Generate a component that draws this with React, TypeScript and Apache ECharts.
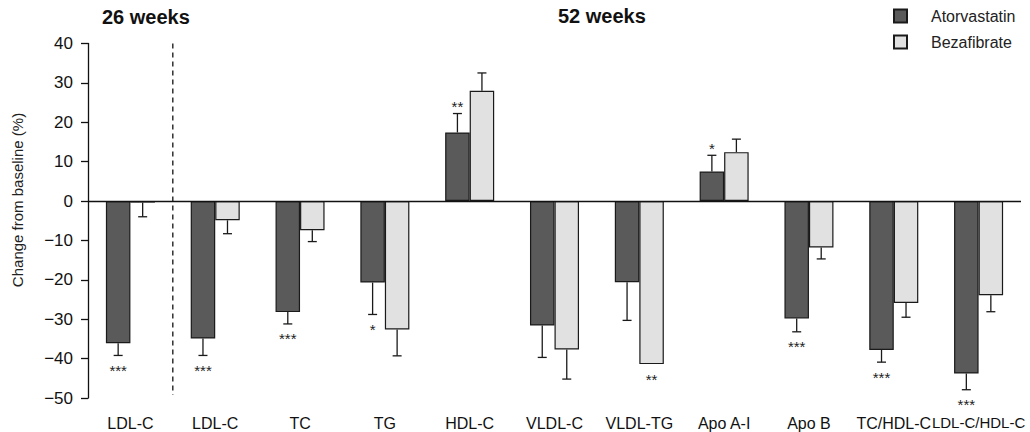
import React, { useEffect, useRef } from "react";
import * as echarts from "echarts";

const categories = ["LDL-C", "LDL-C", "TC", "TG", "HDL-C", "VLDL-C", "VLDL-TG", "Apo A-I", "Apo B", "TC/HDL-C", "LDL-C/HDL-C"];
const atorvastatin = [-36.1, -34.9, -28.2, -20.7, 17.4, -31.6, -20.6, 7.5, -29.8, -37.8, -43.8];
const atorvastatinErr = [3.1, 4.3, 3.0, 8.1, 4.8, 8.1, 9.7, 4.1, 3.4, 3.1, 4.1];
const bezafibrate = [-0.4, -4.9, -7.4, -32.6, 28.0, -37.7, -41.4, 12.4, -11.8, -25.9, -23.9];
const bezafibrateErr = [3.6, 3.4, 2.9, 6.7, 4.5, 7.5, 0, 3.3, 2.9, 3.6, 4.2];
const sigAtorvastatin = ["***", "***", "***", "*", "**", "", "", "*", "***", "***", "***"];
const sigBezafibrate = ["", "", "", "", "", "", "**", "", "", "", ""];
const yTicks = { min: -50, max: 40, interval: 10 };

const FONT = "'Liberation Sans', Arial, Helvetica, sans-serif";
const DARK = "#5a5a5a";
const LIGHT = "#e1e1e1";
const EDGE = "#1a1a1a";
const BAR_FRAC = 0.289;

function errorSeries(name: string, values: number[], errs: number[], sigs: string[], side: number, withDivider: boolean) {
  return {
    type: "custom",
    name: name + "-err",
    silent: true,
    clip: false,
    z: 5,
    itemStyle: { color: "#222" },
    emphasis: { disabled: true },
    data: values.map((v, i) => [i, v]),
    encode: { x: 0, y: 1 },
    renderItem: (params: any, api: any) => {
      const i = params.dataIndex;
      const v = values[i];
      const e = errs[i];
      const band = api.size([1, 0])[0];
      const bw = band * BAR_FRAC;
      const c = api.coord([i, v]);
      const x = c[0] + side * bw / 2;
      const sign = v >= 0 ? 1 : -1;
      const endPt = api.coord([i, v + sign * e]);
      const yEnd = endPt[1];
      const children: any[] = [];
      const ls = { stroke: EDGE, lineWidth: 1.3 };
      if (withDivider && i === 0) {
        const top = api.coord([0, yTicks.max])[1];
        const bot = api.coord([0, yTicks.min])[1];
        const dx = c[0] + band / 2;
        children.push({
          type: "line",
          shape: { x1: dx, y1: top, x2: dx, y2: bot - 3 },
          style: { stroke: "#111", lineWidth: 1.3, lineDash: [5, 4] },
        });
      }
      if (e > 0) {
        children.push({ type: "line", shape: { x1: x, y1: c[1], x2: x, y2: yEnd }, style: ls });
        children.push({ type: "line", shape: { x1: x - 4.5, y1: yEnd, x2: x + 4.5, y2: yEnd }, style: ls });
      }
      const s = sigs[i];
      if (s) {
        const ty = sign < 0 ? yEnd + 15 : yEnd - 7;
        children.push({
          type: "text",
          style: {
            text: s, x, y: ty, align: "center", verticalAlign: "middle",
            fontSize: 15, fontFamily: FONT, fill: "#222", stroke: "none", lineWidth: 0,
          },
        });
      }
      return { type: "group", children };
    },
  };
}

export default function App() {
  const ref = useRef<HTMLDivElement>(null);
  useEffect(() => {
    if (!ref.current) return;
    const chart = echarts.init(ref.current, null, { renderer: "svg" });
    chart.setOption({
      animation: false,
      backgroundColor: "#ffffff",
      textStyle: { fontFamily: FONT },
      grid: { left: 88, right: 9, top: 43.4, bottom: 34, containLabel: false },
      legend: {
        data: ["Atorvastatin", "Bezafibrate"],
        orient: "vertical",
        left: 893,
        top: 8,
        padding: 0,
        itemGap: 10,
        itemWidth: 13,
        itemHeight: 13,
        icon: "rect",
        textStyle: { fontSize: 16, color: "#222", fontFamily: FONT, padding: [0, 0, 0, 19] },
      },
      xAxis: {
        type: "category",
        data: categories,
        axisLine: { show: false, onZero: false },
        axisTick: { show: false },
        axisLabel: {
          fontSize: 16,
          color: "#111",
          margin: 17,
          fontFamily: FONT,
          interval: 0,
          formatter: (v: string, i: number) => (i === categories.length - 1 ? "{sm|" + v + "}" : v),
          rich: { sm: { fontSize: 15, color: "#111", fontFamily: FONT } },
        },
        splitLine: { show: false },
      },
      yAxis: {
        type: "value",
        min: yTicks.min,
        max: yTicks.max,
        interval: yTicks.interval,
        axisLine: { show: true, lineStyle: { color: "#111", width: 1.3 } },
        axisTick: { show: true, length: 7, lineStyle: { color: "#111", width: 1.3 } },
        axisLabel: {
          fontSize: 17,
          color: "#111",
          margin: 15,
          fontFamily: FONT,
          formatter: (v: number) => (v < 0 ? "\u2212" + Math.abs(v) : String(v)),
        },
        splitLine: { show: false },
      },
      graphic: [
        { type: "text", left: 102, top: 7, style: { text: "26 weeks", fontSize: 20, fontWeight: "bold", fontFamily: FONT, fill: "#111" } },
        { type: "text", left: 558, top: 6, style: { text: "52 weeks", fontSize: 20, fontWeight: "bold", fontFamily: FONT, fill: "#111" } },
        {
          type: "text",
          x: 17,
          y: 200,
          rotation: Math.PI / 2,
          style: { text: "Change from baseline (%)", fontSize: 15, fontFamily: FONT, fill: "#222", align: "center", verticalAlign: "middle" },
        },
      ],
      series: [
        {
          type: "bar",
          name: "Atorvastatin",
          data: atorvastatin,
          barWidth: (BAR_FRAC * 100).toFixed(1) + "%",
          barGap: "0%",
          itemStyle: { color: DARK, borderColor: EDGE, borderWidth: 1.2 },
          markLine: {
            silent: true,
            symbol: "none",
            label: { show: false },
            lineStyle: { color: "#111", type: "solid", width: 1.3 },
            data: [{ yAxis: 0 }],
          },
        },
        {
          type: "bar",
          name: "Bezafibrate",
          data: bezafibrate,
          barWidth: (BAR_FRAC * 100).toFixed(1) + "%",
          barGap: "0%",
          itemStyle: { color: LIGHT, borderColor: EDGE, borderWidth: 1.2 },
        },
        errorSeries("Atorvastatin", atorvastatin, atorvastatinErr, sigAtorvastatin, -1, true),
        errorSeries("Bezafibrate", bezafibrate, bezafibrateErr, sigBezafibrate, 1, false),
      ],
    });
    return () => chart.dispose();
  }, []);
  return <div ref={ref} style={{ position: "fixed", left: 0, top: 0, width: 1030, height: 432 }} />;
}
